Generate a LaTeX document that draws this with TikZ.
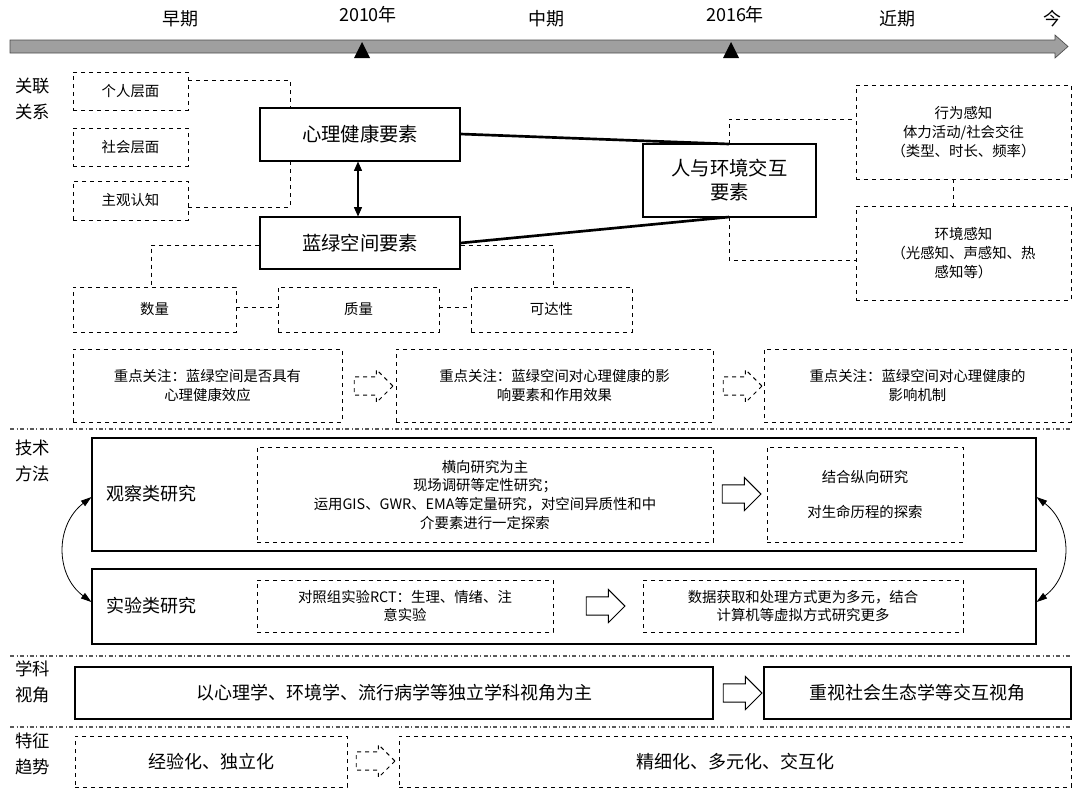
\documentclass[tikz,border=0pt]{standalone}
\usepackage{fontspec}
\setmainfont{Noto Sans CJK SC}
\usetikzlibrary{shapes.arrows,arrows.meta}
\newcommand\mybox[7]{\node[#2, minimum width={0.75pt*(#5-#3)}, minimum height={0.75pt*(#6-#4)}, inner sep=0pt, align=center] (#1) at ({(#3+#5)/2},{(#4+#6)/2}) {#7};}
\newcommand\shaft{\rule{0pt}{13pt}}
\tikzset{
 sbox/.style={draw, line width=0.8pt},
 dbox/.style={draw, dashed, line width=0.6pt},
 small/.style={font=\fontsize{10.8}{14}\selectfont},
 big/.style={font=\fontsize{14.5}{18}\selectfont},
 mid/.style={font=\fontsize{13.5}{16}\selectfont},
 side/.style={font=\fontsize{13}{20}\selectfont, align=left},
 dl/.style={dashed, line width=0.6pt},
 sep/.style={dash dot, line width=0.9pt, gray!70!black},
 harrow/.style={single arrow, draw, line width=0.7pt, minimum height=29pt, single arrow head extend=5.5pt, single arrow head indent=0pt, inner sep=0pt},
}
\begin{document}
\begin{tikzpicture}[x=0.75pt,y=-0.75pt]
\useasboundingbox (0,0) rectangle (1080,797);
% timeline
\fill[gray!75, draw=black!70, line width=0.5pt] (10,40) -- (1055,40) -- (1055,35) -- (1068,46.5) -- (1055,58) -- (1055,53) -- (10,53) -- cycle;
\fill (362,42) -- (354,58) -- (370,58) -- cycle;
\fill (731,42) -- (723,58) -- (739,58) -- cycle;
\node[mid] (t1) at (180,19) {早期};
\node[mid] (t2) at (368,15) {2010年};
\node[mid] (t3) at (546,19) {中期};
\node[mid] (t4) at (735,15) {2016年};
\node[mid] (t5) at (897,19) {近期};
\node[mid] (t6) at (1052,19) {今};
% side labels
\node[side] (s1) at (33,99) {关联\\关系};
\node[side] (s2) at (33,461) {技术\\方法};
\node[side] (s3) at (33,682) {学科\\视角};
\node[side] (s4) at (33,754) {特征\\趋势};
% relation part
\mybox{a1}{dbox,small}{73}{72}{188}{110}{个人层面}
\mybox{a2}{dbox,small}{73}{128}{188}{166}{社会层面}
\mybox{a3}{dbox,small}{73}{181}{188}{220}{主观认知}
\mybox{m}{sbox,big}{260}{108}{460}{161}{心理健康要素}
\mybox{g}{sbox,big}{260}{217}{460}{269}{蓝绿空间要素}
\mybox{h}{sbox,big}{643}{144}{816}{217}{人与环境交互\\要素}
\draw[dl] (a1.east |- 0,80) -- (290,80) -- (290,108);
\draw[dl] (290,161) -- (290,207) -- (a3.east |- 0,207);
\draw[line width=0.8pt, {Triangle[length=7pt,width=6pt]}-{Triangle[length=7pt,width=6pt]}] (m.south -| 358,0) -- (g.north -| 358,0);
\coordinate (ht) at (729,144);
\coordinate (hb) at (729,217);
\draw[line width=2pt] (m.east |- 0,134) -- (ht);
\draw[line width=2pt] (g.east |- 0,243) -- (hb);
\mybox{r1}{dbox,small}{856}{85}{1071}{179}{行为感知\\体力活动/社会交往\\（类型、时长、频率）}
\mybox{r2}{dbox,small}{856}{206}{1071}{300}{环境感知\\（光感知、声感知、热\\感知等）}
\draw[dl] (ht) -- (729,119) -- (r1.west |- 0,119);
\draw[dl] (hb) -- (729,260) -- (r2.west |- 0,260);
\draw[dl] (r1.south -| 953,0) -- (r2.north -| 953,0);
\mybox{b1}{dbox,small}{73}{287}{236}{332}{数量}
\mybox{b2}{dbox,small}{278}{287}{439}{332}{质量}
\mybox{b3}{dbox,small}{471}{287}{632}{332}{可达性}
\draw[dl] (g.west |- 0,245) -- (151,245) -- (b1.north -| 151,0);
\draw[dl] (g.east |- 0,245) -- (553,245) -- (b3.north -| 553,0);
\draw[dl] (b1.east |- 0,307) -- (b2.west |- 0,307);
\draw[dl] (b2.east |- 0,307) -- (b3.west |- 0,307);
% focus
\mybox{f1}{dbox,small}{73}{349}{342}{422}{重点关注：蓝绿空间是否具有\\心理健康效应}
\mybox{f2}{dbox,small}{396}{349}{713}{422}{重点关注：蓝绿空间对心理健康的影\\响要素和作用效果}
\mybox{f3}{dbox,small}{764}{349}{1071}{422}{重点关注：蓝绿空间对心理健康的\\影响机制}
\node[harrow, dashed] (fa1) at (369,386) {\shaft};
\node[harrow, dashed] (fa2) at (738,386) {\shaft};
\draw[sep] (10,429) -- (1072,429);
% methods
\mybox{o}{sbox}{92}{438}{1036}{551}{}
\node[mid, anchor=west] (ol) at (102,494) {观察类研究};
\mybox{o1}{dbox,small}{257}{447}{713}{542}{横向研究为主\\现场调研等定性研究；\\运用GIS、GWR、EMA等定量研究，对空间异质性和中\\介要素进行一定探索}
\mybox{o2}{dbox,small}{767}{447}{963}{542}{结合纵向研究\\[12pt]对生命历程的探索}
\node[harrow] (oa) at (737,494) {\shaft};
\mybox{e}{sbox}{92}{569}{1036}{644}{}
\node[mid, anchor=west] (el) at (102,606) {实验类研究};
\mybox{e1}{dbox,small}{257}{580}{553}{632}{对照组实验RCT：生理、情绪、注\\意实验}
\mybox{e2}{dbox,small}{643}{580}{963}{632}{数据获取和处理方式更为多元，结合\\计算机等虚拟方式研究更多}
\node[harrow] (ea) at (601,606) {\shaft};
\draw[line width=0.6pt, {Triangle[length=8pt,width=5pt]}-{Triangle[length=8pt,width=5pt]}] (o.west |- 0,497) .. controls (55,525) and (55,575) .. (e.west |- 0,602);
\draw[line width=0.6pt, {Triangle[length=8pt,width=5pt]}-{Triangle[length=8pt,width=5pt]}] (o.east |- 0,497) .. controls (1073,525) and (1073,575) .. (e.east |- 0,602);
\draw[sep] (10,656) -- (1072,656);
% discipline
\mybox{d1}{sbox,mid}{75}{667}{713}{719}{以心理学、环境学、流行病学等独立学科视角为主}
\mybox{d2}{sbox,mid}{764}{667}{1071}{719}{重视社会生态学等交互视角}
\node[harrow] (da) at (738,693) {\shaft};
\draw[sep] (10,727) -- (1072,727);
% trend
\mybox{c1}{dbox,mid}{75}{736}{347}{787}{经验化、独立化}
\mybox{c2}{dbox,mid}{399}{736}{1071}{787}{精细化、多元化、交互化}
\node[harrow, dashed] (ca) at (371,761) {\shaft};
\end{tikzpicture}
\end{document}
